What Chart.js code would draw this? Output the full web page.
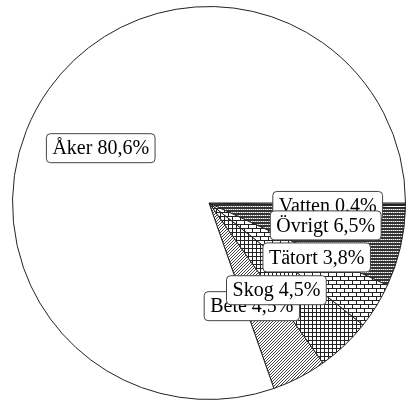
<!DOCTYPE html>
<html>
<head>
<meta charset="utf-8">
<script src="https://cdn.jsdelivr.net/npm/chart.js@4"></script>
<style>
  html, body { margin: 0; padding: 0; background: #fff; }
  #wrap { width: 408px; height: 405px; }
</style>
</head>
<body>
<div id="wrap"><canvas id="myChart" width="408" height="405"></canvas></div>
<script>
// data, clockwise from the right (east)
const names = ['Vatten', 'Övrigt', 'Tätort', 'Skog', 'Bete', 'Åker'];
const shares = [0.4, 6.5, 3.8, 4.5, 4.5, 80.6];
const shareText = ['0.4%', '6,5%', '3,8%', '4,5%', '4,5%', '80,6%'];

// where each label box sits, as a fraction of the radius from the pie centre
const labelDx = [0.604, 0.594, 0.548, 0.343, 0.218, -0.551];
const labelDy = [0.015, 0.114, 0.277, 0.444, 0.525, -0.279];
const labelOrder = [0, 1, 2, 4, 3, 5];

function makePattern(w, h, draw) {
    const c = document.createElement('canvas');
    c.width = w; c.height = h;
    const g = c.getContext('2d');
    g.fillStyle = '#fff';
    g.fillRect(0, 0, w, h);
    g.fillStyle = '#222';
    draw(g);
    return c;
}

const ctx = document.getElementById('myChart');
const c2d = ctx.getContext('2d');

const pVatten = c2d.createPattern(makePattern(2, 3, g => {
    g.fillStyle = '#222'; g.fillRect(0, 0, 2, 2);
}), 'repeat');
const pOvrigt = c2d.createPattern(makePattern(2, 3, g => {
    g.fillStyle = '#333'; g.fillRect(0, 0, 2, 2);
    g.fillStyle = '#999'; g.fillRect(0, 2, 1, 1);
}), 'repeat');
const pTatort = c2d.createPattern(makePattern(8, 8, g => {
    g.fillRect(0, 0, 8, 1);
    g.fillRect(0, 4, 8, 1);
    g.fillRect(0, 0, 1, 4);
    g.fillRect(4, 4, 1, 4);
}), 'repeat');
const pSkog = c2d.createPattern(makePattern(4, 4, g => {
    g.fillRect(0, 0, 4, 1);
    g.fillRect(0, 0, 1, 4);
}), 'repeat');
const pBete = c2d.createPattern(makePattern(3, 3, g => {
    g.fillStyle = '#444';
    g.fillRect(2, 0, 1, 1);
    g.fillRect(1, 1, 1, 1);
    g.fillRect(0, 2, 1, 1);
}), 'repeat');

const fills = [pVatten, pOvrigt, pTatort, pSkog, pBete, '#ffffff'];

const boxLabels = {
    id: 'boxLabels',
    afterDatasetsDraw(chart) {
        const arc = chart.getDatasetMeta(0).data[0];
        const cx = arc.x, cy = arc.y, r = arc.outerRadius;
        const g = chart.ctx;
        g.save();
        g.font = '20px "Liberation Serif", "Times New Roman", serif';
        g.textAlign = 'center';
        g.textBaseline = 'middle';
        labelOrder.forEach(i => {
            const text = names[i] + ' ' + shareText[i];
            const x = cx + labelDx[i] * r;
            const y = cy + labelDy[i] * r;
            const w = g.measureText(text).width + 12;
            const h = 29;
            g.beginPath();
            g.roundRect(x - w / 2, y - h / 2, w, h, 4);
            g.fillStyle = '#fff';
            g.fill();
            g.lineWidth = 1;
            g.strokeStyle = '#444';
            g.stroke();
            g.fillStyle = '#000';
            g.fillText(text, x, y + 1);
        });
        g.restore();
    }
};

const myChart = new Chart(ctx, {
    type: 'pie',
    data: {
        labels: names,
        datasets: [{
            data: shares,
            backgroundColor: fills,
            borderColor: '#222',
            borderWidth: 1
        }]
    },
    options: {
        responsive: false,
        animation: false,
        rotation: 90,
        layout: { padding: { left: 12, right: 2, top: 6, bottom: 5 } },
        events: [],
        plugins: {
            legend: { display: false },
            tooltip: { enabled: false }
        }
    },
    plugins: [boxLabels]
});
</script>
</body>
</html>
